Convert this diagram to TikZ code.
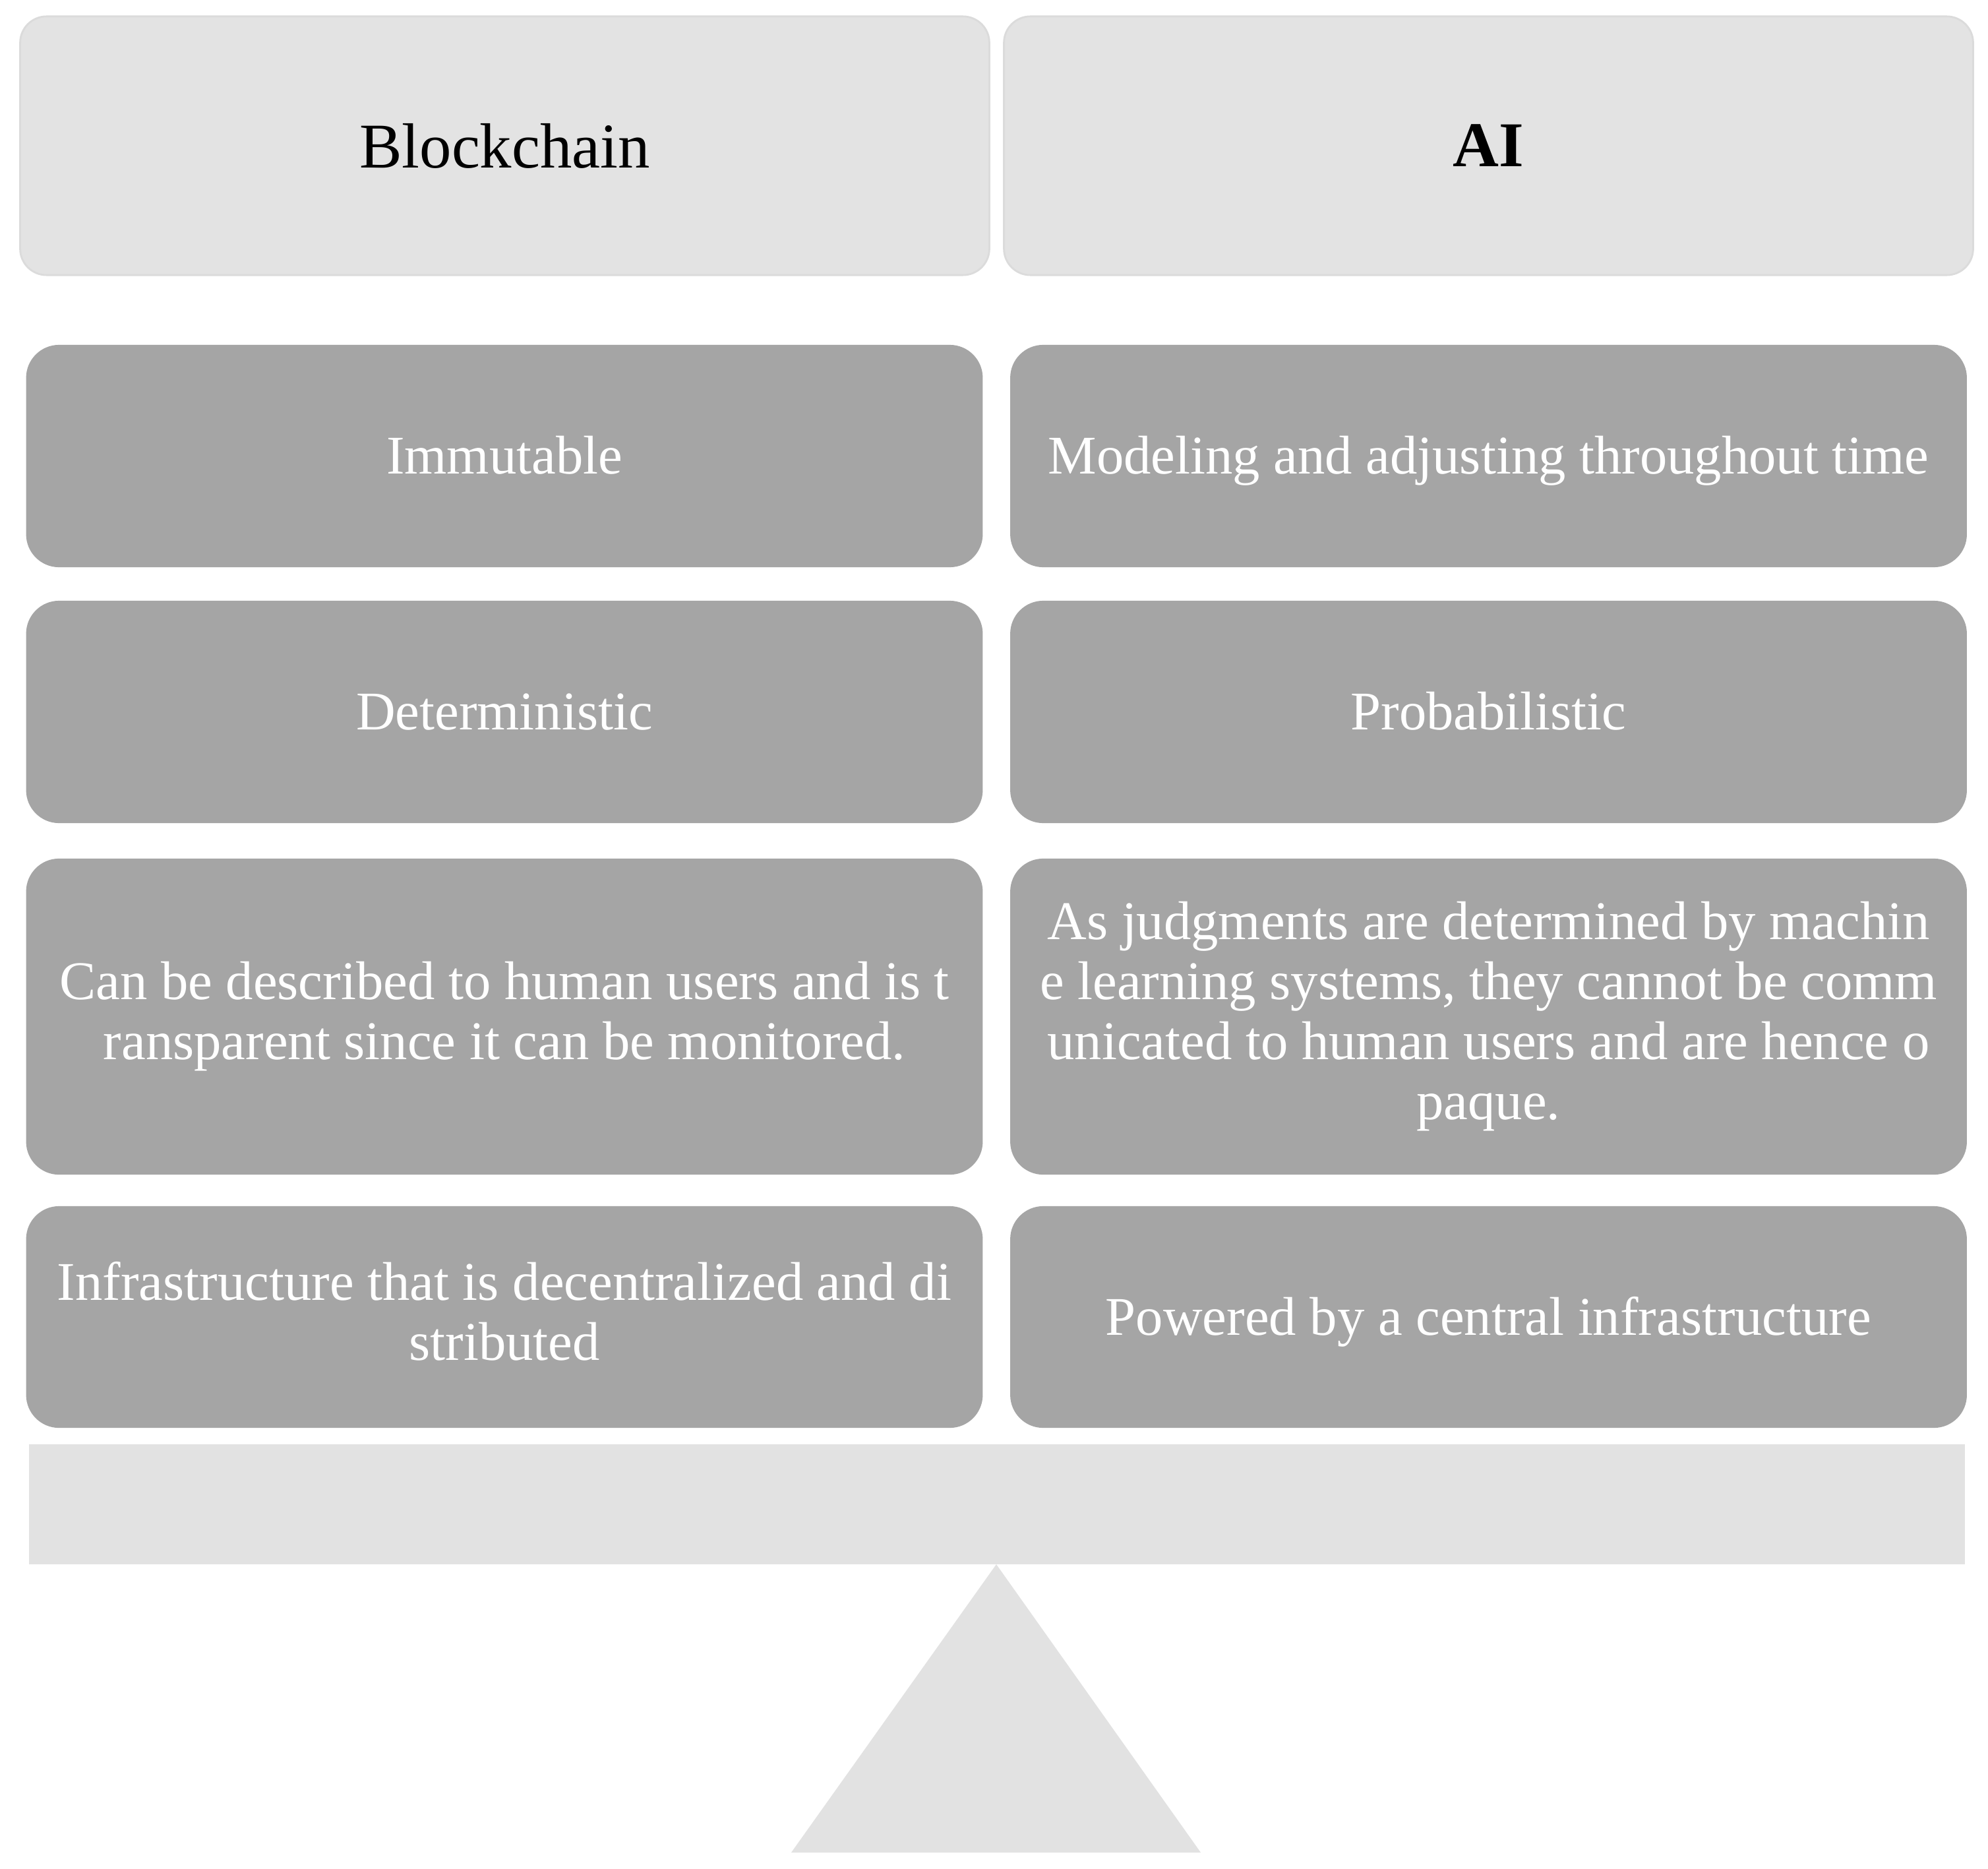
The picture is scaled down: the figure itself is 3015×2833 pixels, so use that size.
\documentclass[tikz,border=0pt]{standalone}
\usepackage{fontspec}
\setmainfont{Liberation Serif}
\tikzstyle{pixelGrid} = [x = 0.01cm, y = -0.01cm]
\definecolor{headerColor}{RGB}{227,227,227}
\definecolor{headerLine}{RGB}{219,219,219}
\definecolor{traitColor}{RGB}{165,165,165}
\definecolor{scaleColor}{RGB}{226,226,226}
\newcommand{\traitStrut}{\rule[-5.2pt]{0pt}{25.9pt}}
\tikzstyle{headerStyle} = [fill=headerColor, draw=headerLine, thick, rounded corners = .4cm, minimum width = 14.69cm, minimum height = 3.92cm, font=\fontsize{27.5}{33}\selectfont]
\tikzstyle{traitStyle} = [fill=traitColor, rounded corners = .5cm, minimum width = 14.5cm, align=center, text=white, font=\fontsize{23.5}{25.9}\selectfont, execute at begin node=\traitStrut, execute at end node=\traitStrut]
\tikzstyle{scaleStyle} = [fill=scaleColor]
\newcommand{\traitPair}[6]{
  \node [traitStyle, minimum height = #4] (#1) at (765, #3) {#5};
  \node [traitStyle, minimum height = #4] (#2) at (2257.5, #3) {#6};
}
\begin{document}
\begin{tikzpicture}[pixelGrid]
          \path [fill=white, use as bounding box] (0,0) rectangle (3015,2833);

          \node [headerStyle] (blockchain) at (765.5, 221) {Blockchain};
          \node [headerStyle] (ai) at (2257.5, 221) {\bfseries AI};

          \traitPair{immutable}{modeling}{691.5}{3.37cm}{Immutable}{Modeling and adjusting throughout time}
          \traitPair{deterministic}{probabilistic}{1079.5}{3.37cm}{Deterministic}{Probabilistic}
          \traitPair{transparent}{opaque}{1541.5}{4.79cm}
            {Can be described to human users and is t\\ransparent since it can be monitored.}
            {As judgments are determined by machin\\e learning systems, they cannot be comm\\unicated to human users and are hence o\\paque.}
          \traitPair{decentralized}{central}{1997}{3.36cm}
            {Infrastructure that is decentralized and di\\stributed}
            {Powered by a central infrastructure}

          \fill [scaleStyle] (44, 2190) rectangle (2980, 2372);
          \fill [scaleStyle] (1511, 2372) -- (1821, 2809) -- (1200, 2809) -- cycle;
        \end{tikzpicture}
\end{document}
